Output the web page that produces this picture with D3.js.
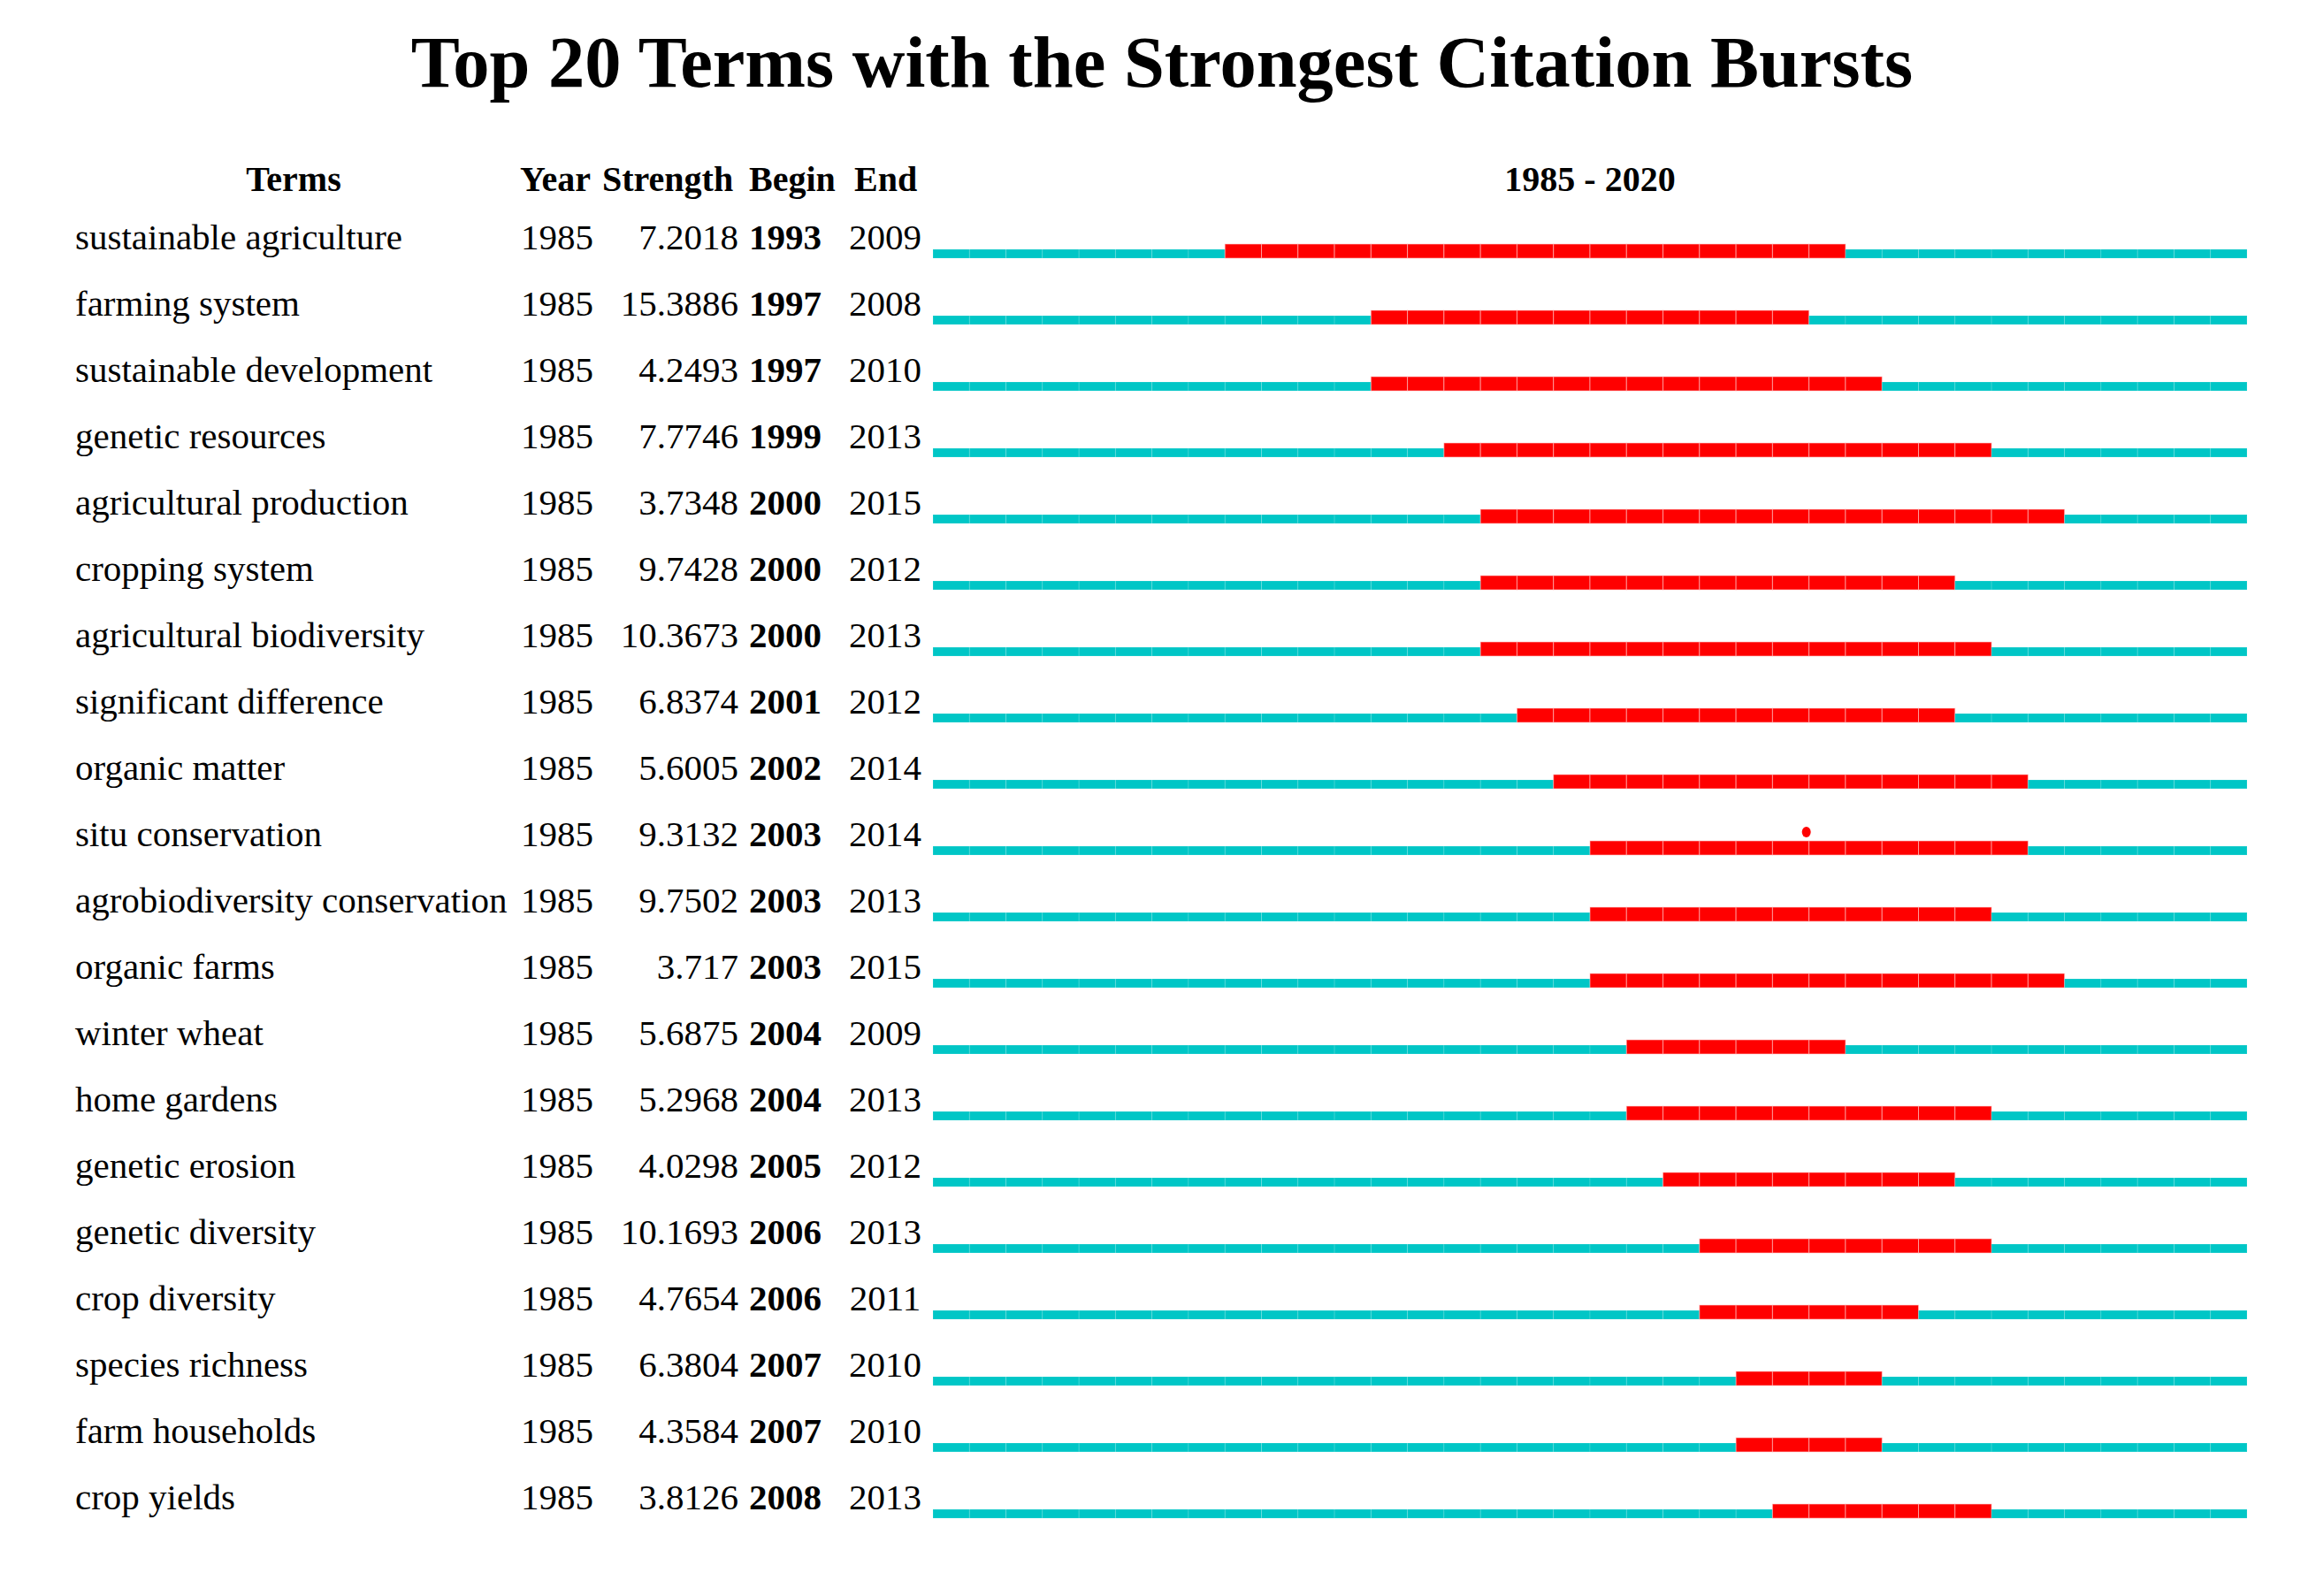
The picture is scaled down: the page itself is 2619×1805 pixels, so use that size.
<!DOCTYPE html>
<html>
<head>
<meta charset="utf-8">
<script src="https://cdn.jsdelivr.net/npm/d3@7"></script>
<style>
	body { margin: 0; background: #fff; }
	svg text { font-family: "Liberation Serif", "Times New Roman", serif; fill: #000; }
</style>
</head>
<body>
<svg id="viz"></svg>
<script>

	// the data
	var terms = ["sustainable agriculture", "farming system", "sustainable development", "genetic resources",
		"agricultural production", "cropping system", "agricultural biodiversity", "significant difference",
		"organic matter", "situ conservation", "agrobiodiversity conservation", "organic farms",
		"winter wheat", "home gardens", "genetic erosion", "genetic diversity",
		"crop diversity", "species richness", "farm households", "crop yields"];
	var years = [1985, 1985, 1985, 1985, 1985, 1985, 1985, 1985, 1985, 1985,
		1985, 1985, 1985, 1985, 1985, 1985, 1985, 1985, 1985, 1985];
	var strengths = ["7.2018", "15.3886", "4.2493", "7.7746", "3.7348", "9.7428", "10.3673", "6.8374",
		"5.6005", "9.3132", "9.7502", "3.717", "5.6875", "5.2968", "4.0298", "10.1693",
		"4.7654", "6.3804", "4.3584", "3.8126"];
	var begins = [1993, 1997, 1997, 1999, 2000, 2000, 2000, 2001, 2002, 2003,
		2003, 2003, 2004, 2004, 2005, 2006, 2006, 2007, 2007, 2008];
	var ends = [2009, 2008, 2010, 2013, 2015, 2012, 2013, 2012, 2014, 2014,
		2013, 2015, 2009, 2013, 2012, 2013, 2011, 2010, 2010, 2013];
	var timeline = d3.range(1985, 2021);

	var rows = terms.map(function(t, i) {
		return {term: t, year: years[i], strength: strengths[i], begin: begins[i], end: ends[i]};
	});

	// set up the svg
	var w = 2619;
	var h = 1805;
	var svg = d3.select("#viz").attr("width", w).attr("height", h);

	var x = d3.scaleBand().domain(timeline).range([1055, 2541]);
	var y = d3.scaleBand().domain(terms).range([217, 1717]);
	var cyan = "#00c6c6";
	var red = "#ff0000";

	// title
	svg.append("text")
		.attr("x", 1314).attr("y", 98)
		.attr("text-anchor", "middle")
		.style("font-size", "82.5px").style("font-weight", "bold")
		.text("Top 20 Terms with the Strongest Citation Bursts");

	// column headers
	var head = svg.append("g").style("font-size", "40px").style("font-weight", "bold");
	head.append("text").attr("x", 332).attr("y", 216).attr("text-anchor", "middle").text("Terms");
	head.append("text").attr("x", 588).attr("y", 216).text("Year");
	head.append("text").attr("x", 681).attr("y", 216).text("Strength");
	head.append("text").attr("x", 847).attr("y", 216).text("Begin");
	head.append("text").attr("x", 966).attr("y", 216).text("End");
	head.append("text").attr("x", (x.range()[0] + x.range()[1]) / 2).attr("y", 216)
		.attr("text-anchor", "middle").text(timeline[0] + " - " + timeline[timeline.length - 1]);

	// one group per term
	var row = svg.selectAll("g.row")
		.data(rows)
		.enter().append("g")
		.attr("class", "row")
		.attr("transform", function(d) { return "translate(0," + (y(d.term) + y.bandwidth()) + ")"; })
		.style("font-size", "41px");

	row.append("text").attr("x", 85).attr("y", -10).text(function(d) { return d.term; });
	row.append("text").attr("x", 589).attr("y", -10).text(function(d) { return d.year; });
	row.append("text").attr("x", 835).attr("y", -10).attr("text-anchor", "end").text(function(d) { return d.strength; });
	row.append("text").attr("x", 847).attr("y", -10).style("font-weight", "bold").text(function(d) { return d.begin; });
	row.append("text").attr("x", 1001).attr("y", -10).attr("text-anchor", "middle").text(function(d) { return d.end; });

	// year cells: red inside the burst, cyan elsewhere
	row.selectAll("rect")
		.data(function(d) {
			return timeline.map(function(yr) { return {yr: yr, burst: yr >= d.begin && yr <= d.end}; });
		})
		.enter().append("rect")
		.attr("x", function(c) { return x(c.yr); })
		.attr("width", x.bandwidth())
		.attr("y", function(c) { return c.burst ? -16 : -10; })
		.attr("height", function(c) { return c.burst ? 16 : 10; })
		.attr("fill", function(c) { return c.burst ? red : cyan; })
		.attr("stroke", function(c) { return c.burst ? "rgba(255,200,200,0.6)" : "rgba(255,255,255,0.15)"; })
		.attr("stroke-width", 1);

	// stray red dot above the situ conservation bar
	svg.append("ellipse")
		.attr("cx", x(2009) - 3)
		.attr("cy", y("situ conservation") + y.bandwidth() - 26)
		.attr("rx", 5).attr("ry", 6)
		.attr("fill", red);

</script>
</body>
</html>
